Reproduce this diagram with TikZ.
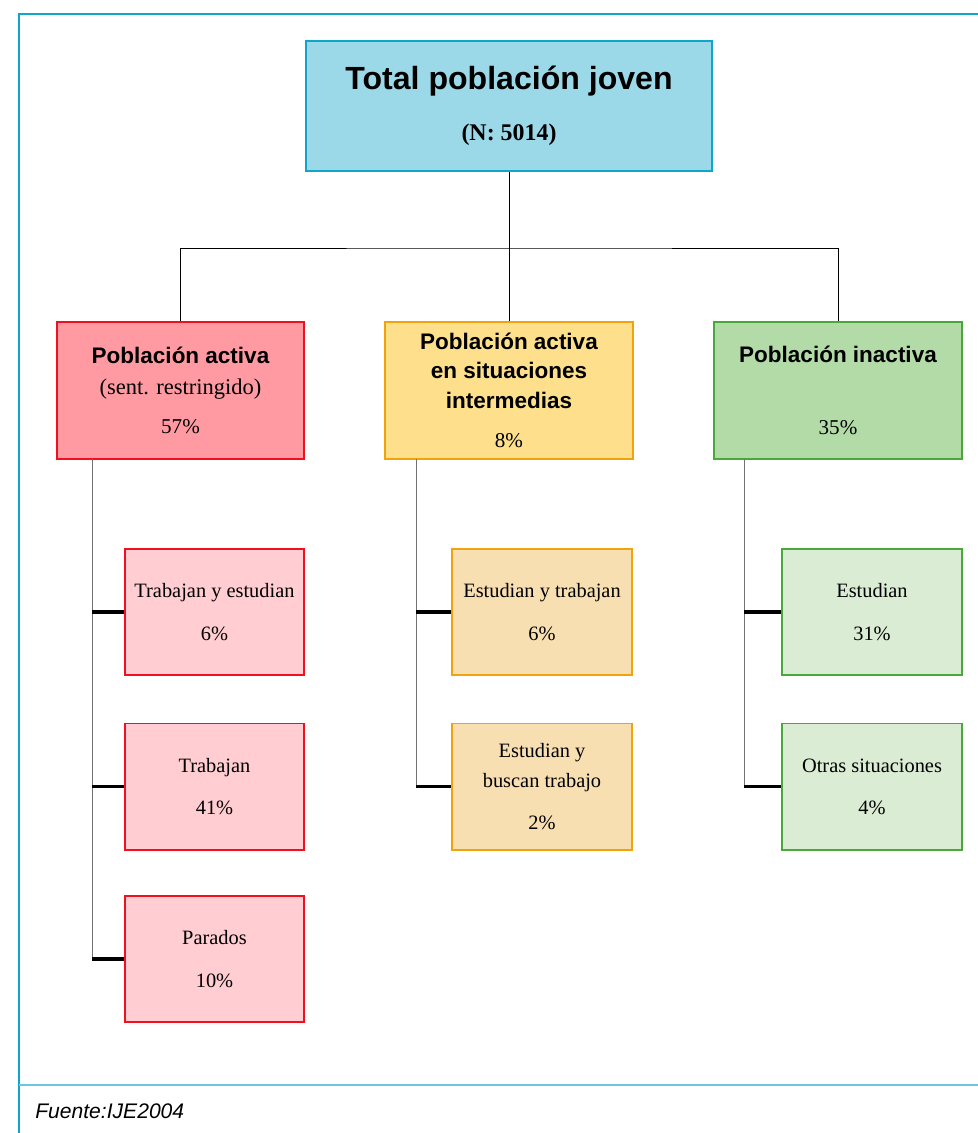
\documentclass[tikz,border=0pt]{standalone}
\usepackage{fontspec}
\setmainfont{Liberation Serif}
\setsansfont{Liberation Sans}
\definecolor{framecol}{HTML}{0FA6CA}
\definecolor{rulecol}{HTML}{6CC6DF}
\definecolor{topfill}{HTML}{9CD9E8}
\definecolor{redline}{HTML}{F01020}
\definecolor{redfill}{HTML}{FF9AA2}
\definecolor{redlight}{HTML}{FFCDD2}
\definecolor{yelline}{HTML}{F0A30A}
\definecolor{yelfill}{HTML}{FDDF8C}
\definecolor{yellight}{HTML}{F8DFB2}
\definecolor{grnline}{HTML}{48A83A}
\definecolor{grnfill}{HTML}{B2DBA7}
\definecolor{grnlight}{HTML}{DAECD4}
\newcommand{\ttl}[1]{{\sffamily\bfseries\fontsize{16}{19}\selectfont #1}}
\newcommand{\pct}[1]{{\fontsize{15}{18}\selectfont #1}}
\begin{document}
\begin{tikzpicture}[x=0.025cm, y=-0.025cm,
    every node/.style={font=\fontsize{14.5}{22}\selectfont, align=center, inner sep=0pt},
    box/.style={draw, line width=1.4pt},
    parbox/.style={box, minimum width=6.175cm, minimum height=3.425cm},
    kidbox/.style={box, minimum width=4.475cm, minimum height=3.15cm},
    stub/.style={line width=2.3pt, black},
    trunk/.style={line width=0.7pt, black!55}]
    \useasboundingbox (0,0) rectangle (978,1133);
    % frame
    \draw[line width=2pt, framecol] (19,1133) -- (19,14) -- (978,14);
    \draw[line width=1.2pt, rulecol] (19,1085) -- (978,1085);
    \node[anchor=base west, font=\sffamily\itshape\fontsize{15}{18}\selectfont] (src) at (35,1118) {Fuente:IJE2004};
    % top
    \node[box, draw=framecol, fill=topfill, minimum width=10.15cm, minimum height=3.25cm] (top) at (509,106)
        {{\sffamily\bfseries\fontsize{22.8}{27}\selectfont Total población joven}\\[14pt]
         {\bfseries\fontsize{17}{20}\selectfont (N: 5014)}};
    % second level
    \node[parbox, draw=redline, fill=redfill] (act) at (180.5,390.5)
        {\ttl{Población activa}\\{\fontsize{16}{19}\selectfont (sent. restringido)}\\[6pt]\pct{57\%}};
    \node[parbox, draw=yelline, fill=yelfill] (mid) at (509,390.5)
        {\ttl{Población activa}\\[-1pt]\ttl{en situaciones}\\[-1pt]\ttl{intermedias}\\[6pt]\pct{8\%}};
    \node[parbox, draw=grnline, fill=grnfill] (ina) at (838,390.5)
        {\ttl{Población inactiva}\\[29pt]\pct{35\%}};
    \draw[line width=0.7pt] (top.south) -- (mid.north);
    \coordinate (split) at (509,248);
    \draw[line width=0.7pt] (act.north) |- (split) -| (ina.north);
    % third level
    \node[kidbox, draw=redline, fill=redlight] (r1) at (214.5,612) {Trabajan y estudian\\[8pt]6\%};
    \node[kidbox, draw=redline, fill=redlight] (r2) at (214.5,786.5) {Trabajan\\[8pt]41\%};
    \node[kidbox, draw=redline, fill=redlight] (r3) at (214.5,959) {Parados\\[8pt]10\%};
    \node[kidbox, draw=yelline, fill=yellight] (y1) at (542,612) {Estudian y trabajan\\[8pt]6\%};
    \node[kidbox, draw=yelline, fill=yellight] (y2) at (542,786.5) {Estudian y\\[-1pt]buscan trabajo\\[8pt]2\%};
    \node[kidbox, draw=grnline, fill=grnlight] (g1) at (872,612) {Estudian\\[8pt]31\%};
    \node[kidbox, draw=grnline, fill=grnlight] (g2) at (872,786.5) {Otras situaciones\\[8pt]4\%};
    \coordinate (ra) at (92,459);
    \coordinate (ya) at (416,459);
    \coordinate (ga) at (744,459);
    \draw[trunk] (ra) -- (ra |- r3.west);
    \draw[trunk] (ya) -- (ya |- y2.west);
    \draw[trunk] (ga) -- (ga |- g2.west);
    \foreach \n in {r1,r2,r3} \draw[stub] (\n.west -| ra) -- (\n.west);
    \foreach \n in {y1,y2} \draw[stub] (\n.west -| ya) -- (\n.west);
    \foreach \n in {g1,g2} \draw[stub] (\n.west -| ga) -- (\n.west);
\end{tikzpicture}
\end{document}
